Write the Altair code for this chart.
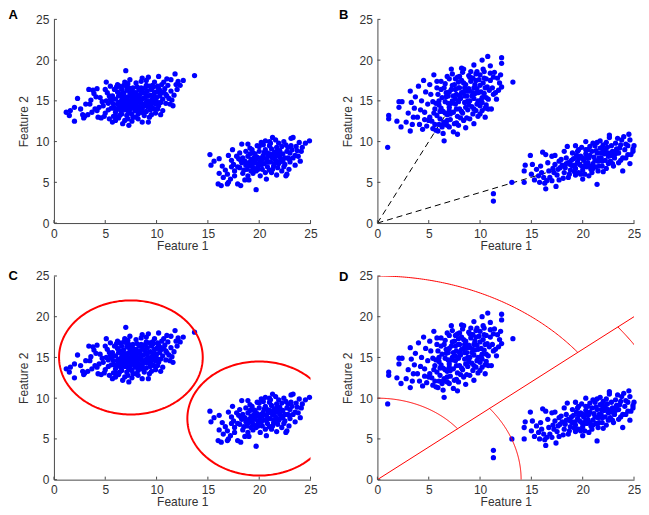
import altair as alt
import pandas as pd
import numpy as np

W, H = 257, 204
tick_values = [0, 5, 10, 15, 20, 25]

# ---- Panels A and C: same data ----
ac_cluster1 = [
    (1.2, 13.6), (1.6, 13.8), (1.5, 13.2), (2.0, 12.5), (2.3, 15.3), (2.0, 14.2), (2.8, 13.3), (2.9, 12.9),
    (3.0, 13.1), (3.4, 16.4), (3.5, 14.6), (3.8, 16.3), (3.7, 13.6), (3.9, 15.9), (4.2, 16.5), (4.0, 14.0),
    (4.3, 13.0), (4.5, 15.4), (4.6, 12.9), (4.7, 14.9), (5.1, 17.3), (5.0, 13.5), (5.2, 16.0), (5.4, 12.8),
    (5.5, 15.3), (5.6, 14.1), (5.8, 13.1), (5.9, 16.4), (6.0, 12.6), (6.2, 17.0), (6.3, 14.8), (6.5, 15.8),
    (6.6, 13.4), (6.7, 12.2), (6.8, 16.9), (7.0, 18.7), (7.1, 14.5), (7.2, 13.8), (7.3, 12.0), (7.4, 17.6),
    (7.5, 15.0), (7.6, 16.3), (7.7, 13.0), (7.8, 14.2), (8.0, 17.2), (8.1, 15.5), (8.2, 12.8), (8.4, 14.8),
    (8.5, 16.6), (8.6, 12.4), (8.7, 13.6), (8.9, 15.9), (9.0, 17.5), (9.1, 14.3), (9.3, 16.8), (9.5, 13.3),
    (9.6, 15.2), (9.8, 17.3), (10.0, 16.1), (10.1, 14.0), (10.2, 18.0), (10.3, 15.6), (10.5, 17.0), (10.6, 13.8),
    (10.8, 16.5), (10.9, 14.7), (11.0, 17.7), (11.2, 15.3), (11.4, 16.2), (11.3, 14.6), (11.6, 14.4), (11.8, 18.3),
    (11.9, 17.0), (12.1, 17.4), (12.0, 16.4), (12.6, 17.5), (13.7, 18.1), (9.2, 12.4), (11.5, 15.1), (10.4, 13.3),
    (5.8, 14.6), (6.0, 15.2), (6.1, 14.0), (6.3, 15.6), (6.4, 14.3), (6.5, 13.8), (6.6, 15.1), (6.7, 14.6),
    (6.8, 15.9), (6.9, 13.9), (7.0, 15.4), (7.0, 14.2), (7.1, 16.3), (7.2, 15.0), (7.3, 13.5), (7.3, 14.7),
    (7.4, 16.0), (7.5, 14.1), (7.5, 15.6), (7.6, 13.4), (7.7, 14.9), (7.7, 16.6), (7.8, 15.3), (7.9, 13.8),
    (8.0, 14.5), (8.0, 16.0), (8.1, 15.0), (8.2, 13.4), (8.3, 16.4), (8.3, 15.5), (8.4, 14.1), (8.5, 15.1),
    (8.6, 13.9), (8.7, 16.0), (8.8, 14.6), (8.9, 15.4), (9.0, 13.7), (9.1, 16.2), (9.2, 15.0), (9.3, 14.4),
    (9.4, 15.7), (9.5, 16.4), (9.6, 14.1), (9.7, 15.0), (9.8, 16.0), (9.9, 14.6), (10.0, 15.4), (10.1, 16.8),
    (10.2, 14.4), (10.4, 15.9), (10.6, 15.2), (6.2, 16.1), (5.7, 15.6), (5.3, 14.7), (5.1, 15.0), (4.8, 14.4),
    (6.9, 17.3), (8.5, 17.4), (7.2, 12.8), (8.0, 13.0), (6.4, 13.2), (9.0, 16.9),
    (3.3, 13.3), (3.6, 15.1), (4.1, 15.5), (4.4, 14.2), (4.9, 13.1), (5.0, 16.4), (5.3, 13.9), (5.5, 16.8),
    (5.7, 12.4), (6.0, 13.6), (6.1, 16.7), (6.3, 12.9), (6.6, 16.4), (6.8, 14.3), (6.9, 12.6), (7.2, 17.1),
    (7.4, 14.4), (7.6, 12.5), (7.9, 15.7), (8.1, 16.7), (8.3, 13.8), (8.6, 16.3), (8.8, 13.2), (9.0, 14.8),
    (9.2, 17.9), (9.4, 13.9), (9.7, 16.7), (9.9, 13.5), (10.2, 16.5), (10.4, 14.8), (10.7, 17.3), (10.9, 15.8),
    (11.1, 16.9), (11.4, 17.6), (11.7, 15.7), (12.3, 16.9), (6.2, 14.6), (6.7, 15.4), (7.1, 13.2), (7.6, 15.3),
    (7.9, 14.6), (8.2, 14.3), (8.6, 14.6), (8.7, 15.3), (9.4, 14.7), (9.8, 15.5), (5.6, 15.0), (6.5, 14.4),
    (7.3, 16.6), (8.4, 15.8), (5.9, 14.1), (9.3, 13.0), (4.2, 13.8), (2.6, 14.0), (3.1, 14.6),
    (6.6, 14.0), (6.9, 14.9), (7.2, 15.5), (7.4, 13.9), (7.6, 14.5), (7.8, 16.0), (8.1, 14.0), (8.3, 14.9),
    (8.5, 13.6), (8.7, 14.3), (8.9, 16.6), (9.2, 15.6), (9.5, 14.6), (9.6, 16.9), (10.0, 14.9), (10.3, 16.3),
    (7.1, 16.7), (6.4, 16.8), (5.4, 15.6), (8.6, 17.8), (9.8, 14.0), (10.7, 16.1), (11.0, 15.6), (6.0, 13.1),
]
ac_cluster2 = [
    (15.2, 8.4), (15.3, 7.1), (15.6, 7.6), (16.1, 7.9), (16.0, 4.8), (16.3, 4.6), (16.9, 4.8), (17.9, 4.8),
    (19.7, 4.1), (24.9, 10.1), (23.3, 10.5), (23.1, 10.4), (21.3, 10.5), (21.6, 10.2), (18.3, 9.7), (24.2, 9.3),
    (24.1, 8.8), (23.5, 7.1), (22.7, 6.0), (16.7, 6.5), (16.1, 6.1), (16.5, 5.6), (17.2, 5.4), (17.6, 6.4),
    (17.0, 8.3), (17.5, 7.2), (18.2, 4.6), (18.6, 5.3), (18.9, 9.7), (19.3, 9.0), (19.8, 9.5), (20.2, 9.9),
    (20.6, 10.1), (21.0, 9.5), (21.9, 9.8), (22.4, 10.0), (22.8, 9.3), (23.0, 8.6), (23.6, 9.4), (23.8, 8.2),
    (24.0, 7.6), (23.3, 8.0), (22.5, 7.2), (22.2, 6.4), (21.7, 5.9), (21.2, 6.2), (20.7, 5.4), (20.1, 5.8),
    (19.4, 6.1), (18.8, 6.6), (18.3, 7.4), (17.8, 8.2), (17.3, 6.9), (22.9, 6.6), (24.5, 9.8),
    (18.6, 7.6), (18.9, 8.2), (19.0, 7.0), (19.2, 7.8), (19.4, 8.6), (19.5, 6.7), (19.6, 7.4), (19.8, 8.1),
    (19.9, 7.0), (20.0, 8.8), (20.1, 7.6), (20.3, 6.6), (20.4, 8.3), (20.5, 7.3), (20.6, 9.0), (20.7, 7.9),
    (20.8, 6.9), (21.0, 8.5), (21.1, 7.5), (21.2, 9.1), (21.3, 8.0), (21.4, 7.0), (21.5, 8.7), (21.6, 7.7),
    (21.8, 8.3), (21.9, 7.3), (22.0, 8.9), (22.1, 7.9), (22.3, 8.5), (22.5, 8.0), (20.2, 7.1), (19.3, 7.2),
    (18.4, 8.0), (18.1, 6.8), (20.9, 8.2), (21.7, 9.3), (19.7, 6.4), (22.7, 8.8), (18.7, 7.1), (20.0, 9.4),
    (16.4, 7.0), (16.9, 6.0), (17.3, 7.7), (17.6, 5.8), (17.9, 6.9), (18.1, 8.6), (18.4, 6.1), (18.7, 8.8),
    (18.9, 5.8), (19.1, 9.2), (19.2, 6.4), (19.6, 8.5), (19.9, 6.6), (20.2, 8.0), (20.4, 9.6), (20.6, 6.2),
    (20.9, 7.5), (21.1, 9.8), (21.3, 6.6), (21.6, 8.3), (21.8, 6.8), (22.0, 7.5), (22.2, 9.4), (22.4, 6.9),
    (22.6, 9.6), (22.8, 8.0), (23.0, 7.5), (23.2, 9.0), (23.5, 8.3), (23.9, 9.9), (22.6, 5.8), (19.0, 5.3),
    (17.0, 5.0), (17.4, 9.0), (18.0, 7.9), (19.5, 8.0), (20.8, 8.6), (21.4, 8.0), (19.3, 7.5), (21.9, 8.6),
    (19.0, 7.4), (19.4, 6.8), (19.7, 7.8), (20.0, 7.3), (20.3, 7.8), (20.5, 8.7), (20.8, 7.5), (21.0, 6.5),
    (21.2, 8.4), (21.5, 7.3), (21.7, 8.8), (22.0, 8.1), (22.3, 7.6), (19.1, 8.5), (18.5, 6.5), (23.1, 9.5),
    (23.7, 8.9), (21.0, 10.0), (18.2, 7.7), (22.9, 7.9),
]

# ---- Panels B and D: same data ----
bd_cluster1 = [
    (1.0, 9.3), (1.1, 13.2), (1.1, 12.8), (1.9, 12.5), (2.3, 11.8), (2.1, 14.9), (2.4, 14.9), (2.1, 14.2),
    (3.2, 16.2), (3.2, 11.3), (3.0, 13.5), (3.4, 12.1), (3.6, 14.1), (3.9, 13.0), (4.0, 16.8), (4.1, 12.1),
    (4.3, 15.0), (4.5, 17.5), (4.6, 13.6), (4.8, 11.9), (4.9, 14.6), (5.2, 15.8), (5.3, 12.5), (5.4, 11.6),
    (5.5, 18.2), (5.6, 14.0), (5.7, 11.4), (5.8, 16.6), (6.0, 12.1), (6.2, 17.4), (6.5, 10.1), (6.4, 11.0),
    (6.8, 18.0), (7.0, 11.8), (7.2, 18.9), (7.4, 11.2), (7.6, 17.7), (7.9, 12.0), (8.2, 19.0), (8.4, 18.9),
    (8.6, 11.7), (8.9, 18.1), (9.0, 12.8), (9.3, 17.8), (9.4, 19.4), (9.7, 18.6), (10.0, 13.4), (10.2, 20.0),
    (10.3, 18.9), (10.75, 20.45), (10.6, 14.5), (11.1, 14.0), (11.3, 17.9), (11.5, 16.0), (11.0, 19.3), (11.9, 17.2),
    (12.1, 20.3), (12.1, 19.6), (12.1, 16.7), (12.0, 18.2), (13.2, 17.3), (11.6, 15.2), (10.5, 13.0), (9.4, 12.2),
    (7.8, 10.9),
    (5.8, 13.2), (6.0, 14.5), (6.1, 12.8), (6.3, 15.4), (6.4, 13.7), (6.5, 12.4), (6.6, 14.9), (6.7, 16.0),
    (6.8, 13.3), (6.9, 15.6), (7.0, 14.2), (7.1, 12.7), (7.2, 16.4), (7.3, 15.0), (7.4, 13.6), (7.5, 17.0),
    (7.6, 14.6), (7.7, 15.8), (7.8, 13.1), (7.9, 16.6), (8.0, 14.0), (8.1, 15.3), (8.2, 17.5), (8.3, 13.5),
    (8.4, 16.1), (8.5, 14.8), (8.6, 17.0), (8.7, 15.6), (8.8, 13.9), (8.9, 16.5), (9.0, 15.0), (9.1, 17.4),
    (9.2, 14.3), (9.3, 16.0), (9.4, 15.3), (9.5, 17.0), (9.6, 13.8), (9.7, 16.5), (9.8, 15.0), (9.9, 17.6),
    (10.0, 14.4), (10.1, 16.1), (10.2, 15.4), (10.3, 17.2), (10.4, 15.9), (10.5, 14.1), (10.7, 16.7), (10.8, 15.2),
    (11.0, 17.5), (10.9, 16.3), (7.0, 17.7), (6.3, 11.8), (5.9, 15.8), (8.4, 12.6), (9.6, 18.3), (7.7, 12.3),
    (6.9, 14.7), (8.0, 18.0), (5.5, 13.5), (5.1, 13.0),
    (2.8, 12.4), (3.5, 13.0), (3.7, 15.5), (4.2, 13.9), (4.4, 11.5), (4.7, 16.1), (5.0, 12.6), (5.1, 17.0),
    (5.4, 14.9), (5.6, 12.1), (5.8, 17.4), (6.1, 13.7), (6.2, 16.4), (6.4, 12.1), (6.6, 17.1), (6.8, 12.0),
    (7.0, 16.1), (7.1, 13.4), (7.3, 18.3), (7.5, 12.2), (7.7, 14.0), (7.9, 17.3), (8.1, 12.9), (8.3, 18.5),
    (8.5, 16.6), (8.7, 12.9), (8.9, 14.5), (9.1, 18.6), (9.3, 13.4), (9.5, 15.9), (9.8, 13.1), (10.0, 18.2),
    (10.2, 13.8), (10.4, 18.6), (10.6, 17.7), (10.8, 14.0), (11.2, 16.6), (11.4, 18.5), (11.7, 17.8), (11.8, 16.3),
    (6.0, 15.0), (6.6, 13.5), (7.2, 14.7), (7.4, 15.6), (7.9, 14.9), (8.2, 16.0), (8.5, 15.6), (8.8, 15.0),
    (9.0, 16.2), (9.4, 16.6), (9.7, 14.6), (10.1, 15.1), (8.0, 16.6), (6.7, 15.5), (7.6, 16.4), (9.2, 17.8),
    (10.5, 16.6), (4.6, 12.7), (3.3, 14.8), (5.9, 11.3),
    (7.0, 13.8), (7.3, 16.9), (7.6, 15.2), (7.8, 17.9), (8.0, 15.6), (8.2, 13.7), (8.4, 17.2), (8.6, 14.2),
    (8.8, 16.2), (9.0, 17.9), (9.2, 15.6), (9.4, 14.0), (9.6, 17.5), (9.8, 16.0), (10.0, 16.9), (10.2, 14.8),
    (10.4, 17.8), (10.6, 15.4), (6.5, 16.6), (6.2, 14.1), (5.7, 14.7), (6.8, 12.6), (11.3, 15.8), (11.0, 18.4),
]
bd_cluster2 = [
    (11.3, 3.6), (11.3, 2.7), (13.1, 5.0), (14.4, 7.1), (14.3, 5.0), (14.3, 6.4), (14.9, 8.3), (15.0, 6.0),
    (15.3, 5.3), (15.5, 6.6), (15.8, 5.0), (16.1, 8.7), (16.0, 6.2), (16.4, 4.2), (16.3, 4.9), (16.6, 7.4),
    (16.8, 5.6), (17.0, 8.2), (17.1, 6.7), (17.4, 4.5), (17.3, 8.3), (17.7, 5.3), (17.9, 7.8), (18.2, 6.2),
    (18.5, 9.4), (18.6, 5.6), (19.0, 8.6), (19.3, 5.9), (19.6, 9.0), (20.0, 5.4), (20.3, 10.0), (20.3, 9.0),
    (20.6, 5.8), (21.0, 9.8), (21.4, 4.75), (21.5, 6.4), (21.7, 10.1), (22.0, 9.0), (22.3, 6.7), (22.6, 10.8),
    (22.6, 10.5), (22.9, 7.3), (23.2, 9.8), (23.5, 8.6), (23.8, 10.2), (23.9, 6.4), (24.2, 8.0), (24.5, 10.9),
    (24.4, 9.5), (24.7, 8.4), (24.9, 9.1), (25.0, 9.5), (24.9, 8.8), (24.6, 7.3), (23.7, 7.7), (15.7, 5.8),
    (16.5, 5.2),
    (17.6, 6.6), (18.0, 7.1), (18.3, 6.8), (18.6, 7.4), (18.8, 6.5), (19.0, 7.0), (19.1, 7.9), (19.3, 6.7),
    (19.5, 7.5), (19.6, 6.2), (19.8, 8.2), (19.9, 7.0), (20.0, 6.5), (20.1, 7.7), (20.3, 8.5), (20.4, 6.9),
    (20.5, 7.4), (20.6, 8.0), (20.8, 6.6), (20.9, 8.8), (21.0, 7.3), (21.1, 8.1), (21.3, 6.9), (21.4, 8.6),
    (21.5, 7.6), (21.7, 9.2), (21.8, 8.0), (21.9, 7.0), (22.1, 8.5), (22.2, 7.7), (22.4, 9.3), (22.5, 8.2),
    (22.7, 7.6), (22.9, 8.8), (23.1, 8.0), (23.3, 9.1), (22.0, 9.6), (21.2, 9.5), (19.5, 8.8), (18.4, 8.0),
    (17.7, 7.6), (20.7, 7.0), (19.8, 6.0), (23.5, 7.4),
    (15.1, 7.2), (15.9, 7.0), (16.2, 5.6), (16.7, 6.4), (17.0, 5.2), (17.3, 7.2), (17.5, 5.9), (17.8, 6.8),
    (18.1, 5.5), (18.4, 7.3), (18.7, 6.0), (18.9, 7.7), (19.2, 6.3), (19.4, 8.3), (19.7, 7.2), (19.9, 9.3),
    (20.2, 6.0), (20.4, 8.0), (20.7, 9.4), (20.9, 6.2), (21.2, 7.7), (21.4, 9.9), (21.6, 7.0), (21.8, 8.6),
    (22.0, 6.3), (22.3, 9.9), (22.5, 7.3), (22.8, 9.5), (23.0, 7.0), (23.2, 8.5), (23.4, 10.4), (23.6, 9.2),
    (23.9, 8.0), (24.2, 9.7), (24.4, 8.4), (24.0, 10.6), (18.2, 8.8), (19.3, 9.5), (16.4, 8.4), (20.1, 6.9),
    (19.2, 7.1), (19.6, 7.9), (20.0, 8.0), (20.3, 7.3), (20.7, 8.3), (21.0, 6.7), (21.3, 8.9), (21.6, 8.0),
    (21.9, 7.6), (22.2, 8.9), (22.5, 8.6), (22.8, 8.3), (23.3, 8.7), (23.7, 9.6), (24.1, 9.0), (18.8, 7.2),
    (20.5, 9.0), (21.9, 9.3), (24.6, 10.2), (17.2, 6.2),
]

# ---- overlays ----
cluster_centers = [(7.5, 15.0), (20.0, 7.5)]   # B: dashed rays, C: circle centres
circle_radius = 7.0
boundary_end = (25.0, 20.0)                    # D: straight boundary from origin
arcs_above = [25.0, 10.0]                      # D: arc radii above the boundary
arcs_below = [14.0, 30.0]                      # D: arc radii below the boundary

letters = ["A", "B", "C", "D"]
letter_offsets = [(-45.4, -0.7), (-38.4, -0.7), (-45.4, 4.0), (-38.4, 4.7)]

AXC = "#4a4a4a"
TXT = "#333333"
FONT = "Liberation Sans"


def pts_df(*clusters):
    rows = [p for c in clusters for p in c]
    return pd.DataFrame(rows, columns=["x", "y"])


xs = alt.Scale(domain=[0, 25], nice=False, zero=False)
ys = alt.Scale(domain=[0, 25], nice=False, zero=False)
common_axis = dict(values=tick_values, grid=False, tickSize=0, labelPadding=5, domainColor=AXC,
                   domainWidth=1, labelColor=TXT, titleColor=TXT, labelFontSize=12, titleFontSize=12,
                   titleFontWeight="normal", labelFont=FONT, titleFont=FONT, labelFlush=False,
                   labelOverlap=False, format="d")
xaxis = alt.Axis(title="Feature 1", titlePadding=1, **common_axis)
yaxis = alt.Axis(title="Feature 2", titlePadding=5, **common_axis)


def X():
    return alt.X("x:Q", scale=xs, axis=xaxis)


def Y():
    return alt.Y("y:Q", scale=ys, axis=yaxis)


def arc_df(radii, a0, a1, n=120):
    rows = []
    for i, r in enumerate(radii):
        t = np.linspace(a0, a1, n)
        for k, tt in enumerate(t):
            rows.append((i, k, r * np.cos(tt), r * np.sin(tt)))
    return pd.DataFrame(rows, columns=["id", "k", "x", "y"])


def panel(data, idx, under=None, over=None):
    layers = []
    if under is not None:
        layers += under
    layers.append(alt.Chart(data).mark_circle(size=28, color="#0000ff", opacity=1).encode(x=X(), y=Y()))
    if over is not None:
        layers += over
    layers.append(alt.Chart(pd.DataFrame({"x": tick_values})).mark_rule(color=AXC, strokeWidth=1)
                  .encode(x=X(), y=alt.value(H), y2=alt.value(H - 3)))
    layers.append(alt.Chart(pd.DataFrame({"y": tick_values})).mark_rule(color=AXC, strokeWidth=1)
                  .encode(y=Y(), x=alt.value(0), x2=alt.value(3)))
    dx, dy = letter_offsets[idx]
    layers.append(alt.Chart(pd.DataFrame({"t": [letters[idx]]}))
                  .mark_text(font=FONT, fontSize=13, fontWeight="bold", align="left",
                             baseline="alphabetic", color="black")
                  .encode(text="t:N", x=alt.value(dx), y=alt.value(dy)))
    return alt.layer(*layers).properties(width=W, height=H)


ac = pts_df(ac_cluster1, ac_cluster2)
bd = pts_df(bd_cluster1, bd_cluster2)

# B dashed rays
ray_rows = []
for i, (cx, cy) in enumerate(cluster_centers):
    ray_rows += [(i, 0, 0.0, 0.0), (i, 1, cx, cy)]
rays = pd.DataFrame(ray_rows, columns=["id", "k", "x", "y"])
ray_layer = alt.Chart(rays).mark_line(color="black", strokeWidth=1, strokeDash=[6, 4]).encode(
    x=X(), y=Y(), detail="id:N", order="k:Q")

# C circles
circ_rows = []
for i, (cx, cy) in enumerate(cluster_centers):
    t = np.linspace(0, 2 * np.pi, 241)
    for k, tt in enumerate(t):
        circ_rows.append((i, k, cx + circle_radius * np.cos(tt), cy + circle_radius * np.sin(tt)))
circ = pd.DataFrame(circ_rows, columns=["id", "k", "x", "y"])
circ_layer = alt.Chart(circ).mark_line(color="#ff0000", strokeWidth=2, clip=True).encode(
    x=X(), y=Y(), detail="id:N", order="k:Q")

# D partition
theta_b = np.arctan2(boundary_end[1], boundary_end[0])
arc_a = arc_df(arcs_above, theta_b, np.pi / 2)
arc_b = arc_df(arcs_below, 0.0, theta_b)
arc_b["id"] += 10
arcs = pd.concat([arc_a, arc_b])
bline = pd.DataFrame({"id": [99, 99], "k": [0, 1], "x": [0.0, boundary_end[0]], "y": [0.0, boundary_end[1]]})
arcs = pd.concat([arcs, bline])
d_layer = alt.Chart(arcs).mark_line(color="#ff0000", strokeWidth=1, clip=True).encode(
    x=X(), y=Y(), detail="id:N", order="k:Q")

pA = panel(ac, 0)
pB = panel(bd, 1, under=[ray_layer])
pC = panel(ac, 2, over=[circ_layer])
pD = panel(bd, 3, over=[d_layer])

chart = alt.ConcatChart(concat=[pA, pB, pC, pD], columns=2,
                        spacing={"row": 53, "column": 67}, bounds="flush").properties(
    padding={"left": 0, "top": 0, "right": 0, "bottom": 0}
).configure_view(stroke=None)

chart.save("out.html", embed_options={"renderer": "svg", "actions": False})
